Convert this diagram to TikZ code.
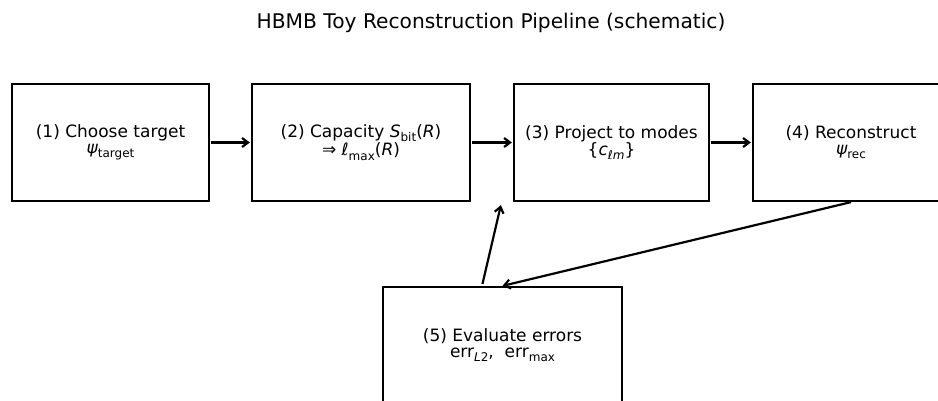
\documentclass[tikz,border=0pt]{standalone}
\usepackage{fontspec}
\setmainfont{DejaVu Sans}
\newfontfamily\obliquefont{DejaVu Sans Oblique}
\usetikzlibrary{arrows.meta}
% italic symbol and lowered subscript in text mode
\newcommand\vi[1]{{\obliquefont #1}}
\newcommand\lsub[1]{\raisebox{-0.25em}{\fontsize{12}{12}\selectfont #1}}
\tikzset{
  stage/.style={draw, line width=2.2pt, minimum height=117pt, align=center,
    font=\fontsize{17}{16}\selectfont, inner sep=0pt},
  flow/.style={line width=2.2pt, -{Straight Barb[length=6pt,width=9pt,line width=2.2pt]}}
}
\begin{document}
\begin{tikzpicture}[x=1pt,y=-1pt]
\useasboundingbox (0,0) rectangle (938,401);
\clip (0,0) rectangle (938,401);
\node[font=\fontsize{20.2}{22}\selectfont] (title) at (491,23) {HBMB Toy Reconstruction Pipeline (schematic)};
\node[stage, minimum width=197pt] (b1) at (110.5,142.5) {(1) Choose target\\\vi{ψ}\lsub{target}};
\node[stage, minimum width=218pt] (b2) at (361,142.5) {(2) Capacity \vi{S}\lsub{bit}(\vi{R})\\⇒ \vi{ℓ}\lsub{max}(\vi{R})};
\node[stage, minimum width=195pt] (b3) at (611.5,142.5) {(3) Project to modes\\\{\vi{c}\lsub{\vi{ℓm}}\}};
\node[stage, minimum width=196pt] (b4) at (851,142.5) {(4) Reconstruct\\\vi{ψ}\lsub{rec}};
\node[stage, minimum width=239pt] (b5) at (502.5,345.5) {(5) Evaluate errors\\err\lsub{\vi{L}2}, \ err\lsub{max}};
\coordinate (s5) at ([xshift=-20.5pt]b5.north);
\coordinate (t3) at ([xshift=-12pt,yshift=-3pt]b3.south west);
\draw[flow, shorten <=1pt, shorten >=1pt] (b1.east) -- (b2.west);
\draw[flow, shorten <=1pt, shorten >=1pt] (b2.east) -- (b3.west);
\draw[flow, shorten <=1pt, shorten >=1pt] (b3.east) -- (b4.west);
\draw[flow] (b4.south) -- (b5.north);
\draw[flow, shorten <=2pt] (s5) -- (t3);
\end{tikzpicture}
\end{document}
